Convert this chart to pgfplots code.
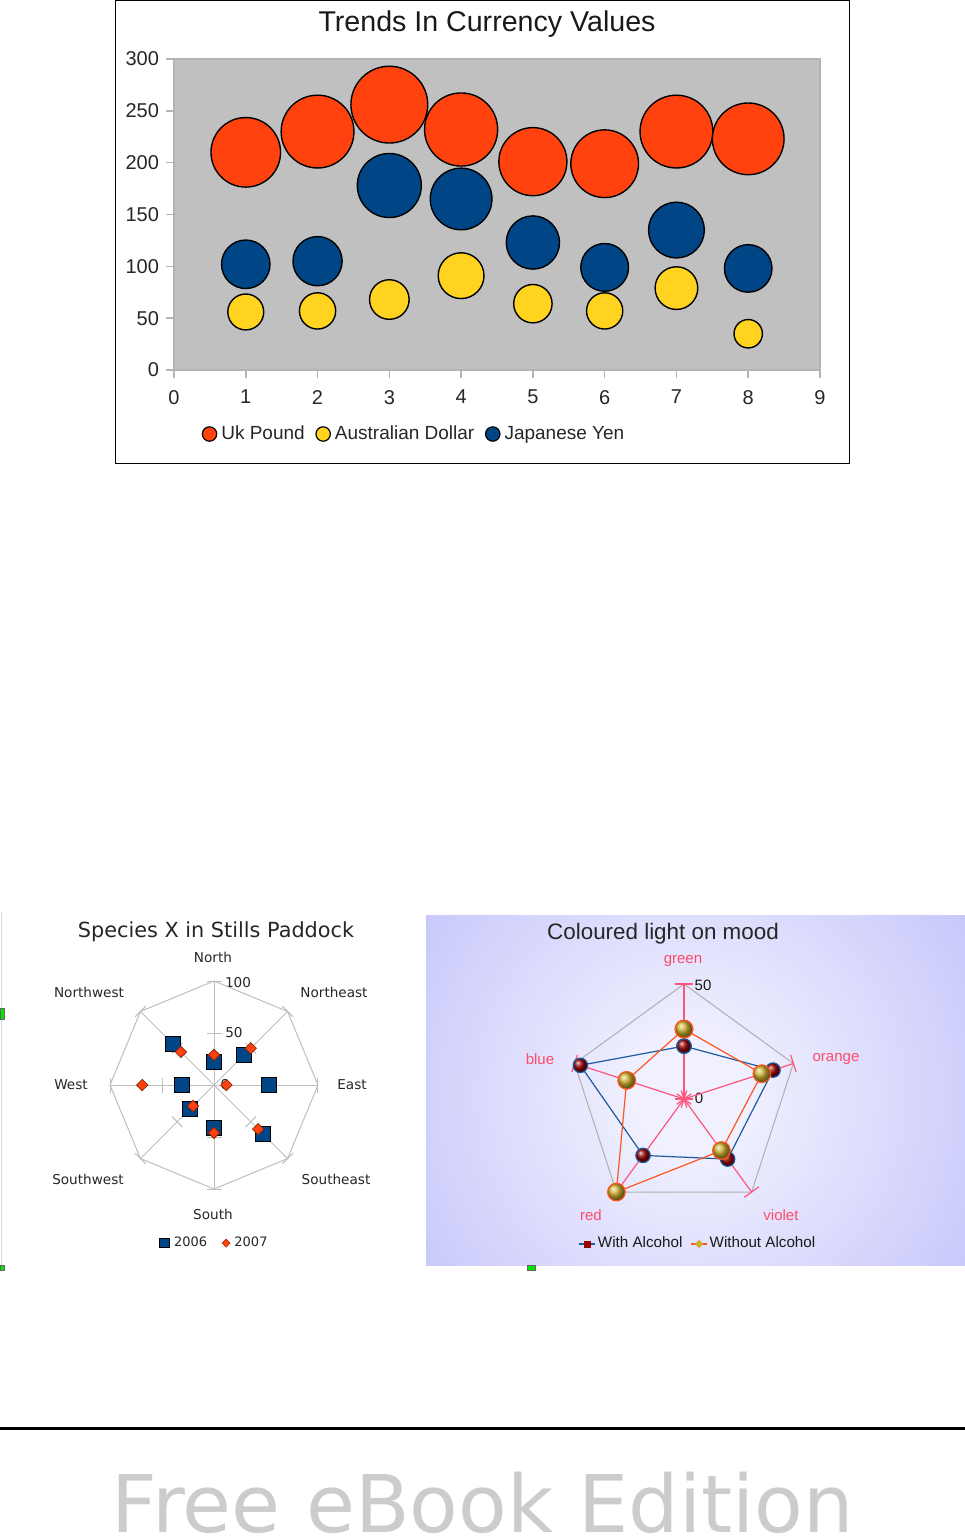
\documentclass[border=0pt]{standalone}
\usepackage{fontspec}
\setmainfont{Liberation Sans}
\newfontfamily\dejavu{DejaVu Sans}
\usepackage{pgfplots}
\usepackage{pgfplotstable}
\pgfplotsset{compat=1.18}
\usepgfplotslibrary{polar}
\usetikzlibrary{plotmarks}

\definecolor{ukred}{RGB}{255,66,14}
\definecolor{audyel}{RGB}{255,211,32}
\definecolor{yenblue}{RGB}{0,69,134}
\definecolor{plotgray}{RGB}{192,192,192}
\definecolor{axisgray}{RGB}{179,179,179}
\definecolor{spokegray}{RGB}{190,190,190}
\definecolor{pentgray}{RGB}{175,175,175}
\definecolor{moodpink}{RGB}{255,85,125}
\definecolor{labelpink}{RGB}{255,75,105}
\definecolor{withblue}{RGB}{30,90,160}
\definecolor{withoutorange}{RGB}{255,85,30}
\definecolor{gold}{RGB}{205,175,45}
\definecolor{darkred}{RGB}{150,0,0}
\definecolor{bgin}{RGB}{240,240,255}
\definecolor{bgout}{RGB}{172,172,248}
\definecolor{wmgray}{RGB}{204,204,204}
\definecolor{handle}{RGB}{0,230,0}

\pgfdeclareradialshading{moodbg}{\pgfpoint{0bp}{0bp}}{color(0bp)=(bgin); color(5bp)=(bgin); color(46bp)=(bgout); color(50bp)=(bgout)}

% currency values: x, value, bubble size
\pgfplotstableread{
x y s
1 210 210
2 230 230
3 256 256
4 232 232
5 201 201
6 199 199
7 230 230
8 223 223
}\ukpound
\pgfplotstableread{
x y s
1 56 56
2 57 57
3 68 68
4 91 91
5 64 64
6 57 57
7 79 79
8 35 35
}\auddollar
\pgfplotstableread{
x y s
1 102 102
2 105 105
3 178 178
4 165 165
5 123 123
6 99 99
7 135 135
8 98 98
}\jpyen

\pgfplotsset{
  bubble/.style={scatter, only marks, mark=*, forget plot, scatter src=explicit,
    scatter/use mapped color={draw=black, fill=#1},
    mark options={line width=0.7pt},
    visualization depends on={\thisrow{s} \as \bsize},
    scatter/@pre marker code/.append style={/tikz/mark size={1.2*sqrt(\bsize)}}},
}

\begin{document}
\begin{tikzpicture}[x=0.5pt, y=-0.5pt]
\useasboundingbox (0,0) rectangle (965,1539);
\coordinate (topax) at (174,370);
\coordinate (spax) at (214,1085);
\coordinate (moodax) at (684,1099);

% ---------- bubble chart ----------
\draw[black, line width=0.6pt] (115.5,0.5) rectangle (849.5,463.5);
\node[anchor=base, font=\fontsize{14.3}{16}\selectfont, text=black!90] at (487,31) {Trends In Currency Values};

\begin{axis}[
  at={(topax)}, anchor=south west,
  scale only axis, width=323pt, height=155.5pt,
  xmin=0, xmax=9, ymin=0, ymax=300,
  xtick={0,...,9}, ytick={0,50,...,300},
  axis background/.style={fill=plotgray},
  axis line style={axisgray, line width=0.8pt},
  tick style={axisgray, line width=0.8pt},
  tick align=outside, major tick length=4pt,
  xtick pos=bottom, ytick pos=left,
  ticklabel style={font=\fontsize{10}{12}\selectfont, text=black!85},
  xticklabel style={yshift=-2.5pt},
  /pgf/number format/assume math mode=true,
  legend style={at={(0.033,-0.2058)}, anchor=west, draw=none, fill=none,
    legend columns=-1, font=\fontsize{9.5}{11}\selectfont, text=black!85,
    /tikz/every even column/.append style={column sep=3.3pt}},
  clip=false,
]
\addplot[bubble=ukred] table[x=x, y=y, meta=s] {\ukpound};
\addplot[bubble=audyel] table[x=x, y=y, meta=s] {\auddollar};
\addplot[bubble=yenblue] table[x=x, y=y, meta=s] {\jpyen};
\addlegendimage{legend image code/.code={\draw[fill=ukred, draw=black, line width=0.6pt] (0pt,0pt) circle (3.6pt);}}
\addlegendentry{Uk Pound}
\addlegendimage{legend image code/.code={\draw[fill=audyel, draw=black, line width=0.6pt] (0pt,0pt) circle (3.6pt);}}
\addlegendentry{Australian Dollar}
\addlegendimage{legend image code/.code={\draw[fill=yenblue, draw=black, line width=0.6pt] (0pt,0pt) circle (3.6pt);}}
\addlegendentry{Japanese Yen}
\end{axis}

% ---------- species radar ----------
\draw[black!15, line width=0.6pt] (1.5,912) -- (1.5,1266);
\filldraw[fill=handle, draw=black!60, line width=0.4pt] (0,1008) rectangle (4,1019);
\filldraw[fill=handle, draw=black!60, line width=0.4pt] (0,1265) rectangle (4,1270);
\node[anchor=base, font=\dejavu\fontsize{10.4}{12}\selectfont, text=black!85] at (216,937) {Species X in Stills Paddock};
\begin{scope}[every node/.style={font=\dejavu\fontsize{6.8}{8}\selectfont, text=black!85}]
\node at (213,957) {North};
\node at (334,992) {Northeast};
\node at (352,1085) {East};
\node at (336,1179) {Southeast};
\node at (213,1214) {South};
\node at (88,1179) {Southwest};
\node at (71,1085) {West};
\node at (89,992) {Northwest};
\node at (238,983) {100};
\node at (234,1033) {50};
\node at (225,1085) {0};
\end{scope}

\begin{polaraxis}[
  at={(spax)}, anchor=center,
  scale only axis, width=104pt, height=104pt,
  xmin=0, xmax=360, ymin=0, ymax=100,
  hide axis, clip=false,
  legend style={at={(0.507,-0.26)}, anchor=center, draw=none, fill=none,
    legend columns=-1, font=\dejavu\fontsize{6.5}{8}\selectfont, text=black!85,
    /tikz/every even column/.append style={column sep=5.3pt}},
]
\pgfplotsinvokeforeach{0,45,...,315}{
  \addplot[spokegray, line width=0.5pt, forget plot] coordinates {(#1,0) (#1,100)};
  \addplot[only marks, mark=|, mark size=3.75pt, mark options={rotate=#1, spokegray, line width=0.5pt}, forget plot] coordinates {(#1,50) (#1,100)};
}
\addplot[spokegray, line width=0.5pt, forget plot] coordinates {(0,100) (45,100) (90,100) (135,100) (180,100) (225,100) (270,100) (315,100) (360,100)};
% 2006
\addplot[only marks, mark=square*, mark size=3.75pt, mark options={fill=yenblue, draw=black, line width=0.6pt}, forget plot]
  coordinates {(90,22) (45,41) (0,53) (315,67) (270,41) (225,33) (180,31) (135,56)};
% 2007
\addplot[only marks, mark=square*, mark size=2pt, mark options={rotate=45, fill=ukred, draw=ukred!55!black, line width=0.4pt}, forget plot]
  coordinates {(90,29) (45,50) (0,12) (315,60) (270,46) (225,28.5) (180,69) (135,45)};
\addlegendimage{legend image code/.code={\draw[fill=yenblue, draw=black, line width=0.4pt] (-2.5pt,-2.2pt) rectangle (2.5pt,2.2pt);}}
\addlegendentry{2006}
\addlegendimage{legend image code/.code={\draw[fill=ukred, draw=ukred!60!black, line width=0.3pt] (0pt,2pt) -- (2pt,0pt) -- (0pt,-2pt) -- (-2pt,0pt) -- cycle;}}
\addlegendentry{2007}
\end{polaraxis}

% ---------- mood radar ----------
\begin{scope}
\clip (426,915) rectangle (965,1265);
\shade[shading=moodbg] (410,815) rectangle (970,1375);
\end{scope}
\filldraw[fill=handle, draw=black!60, line width=0.4pt] (527,1265) rectangle (535,1270);
\node[anchor=base, font=\fontsize{11.2}{13}\selectfont, text=black!85] at (663,939) {Coloured light on mood};
\begin{scope}[every node/.style={font=\fontsize{7.5}{9}\selectfont, text=labelpink}]
\node at (683,961) {green};
\node at (836,1059) {orange};
\node at (781,1215) {violet};
\node at (591,1215) {red};
\node at (540,1059) {blue};
\end{scope}
\node[font=\fontsize{7.5}{9}\selectfont, text=black!90] at (703,985) {50};
\node[font=\fontsize{7.5}{9}\selectfont, text=black!90] at (699,1098) {0};

\begin{polaraxis}[
  at={(moodax)}, anchor=center,
  scale only axis, width=115pt, height=115pt,
  xmin=0, xmax=360, ymin=0, ymax=50,
  hide axis, clip=false,
  legend style={at={(0.561,-0.13)}, anchor=center, draw=none, fill=none,
    legend columns=-1, font=\fontsize{7.6}{9}\selectfont, text=black!90,
    nodes={inner sep=1pt},
    /tikz/every even column/.append style={column sep=3pt}},
]
\addplot[pentgray, line width=0.5pt, forget plot] coordinates {(90,50) (18,50) (306,50) (234,50) (162,50) (90,50)};
\pgfplotsinvokeforeach{18,90,162,234,306}{
  \addplot[moodpink, line width=0.6pt, forget plot] coordinates {(#1,0) (#1,50)};
  \addplot[only marks, mark=|, mark size=4.5pt, mark options={rotate=#1, moodpink, line width=0.6pt}, forget plot] coordinates {(#1,0) (#1,50)};
}
% With Alcohol
\addplot[withblue, line width=0.6pt, mark=ball, mark size=3.6pt, mark options={ball color=darkred}, forget plot]
  coordinates {(90,23) (18,40.7) (306,32.3) (234,30.3) (162,47.4) (90,23)};
% Without Alcohol
\addplot[withoutorange, line width=0.6pt, mark=ball, mark size=4.4pt, mark options={ball color=gold}, forget plot]
  coordinates {(90,30.4) (18,35.6) (306,27.7) (234,50) (162,26.2) (90,30.4)};
\addlegendimage{legend image code/.code={\draw[withblue, line width=0.6pt] (0pt,0pt) -- (8pt,0pt); \fill[darkred] (2.5pt,-1.5pt) rectangle (5.5pt,1.5pt);}}
\addlegendentry{With Alcohol}
\addlegendimage{legend image code/.code={\draw[withoutorange, line width=0.6pt] (0pt,0pt) -- (8pt,0pt); \fill[gold] (4pt,1.8pt) -- (5.8pt,0pt) -- (4pt,-1.8pt) -- (2.2pt,0pt) -- cycle;}}
\addlegendentry{Without Alcohol}
\end{polaraxis}

% ---------- footer ----------
\draw[black, line width=1.5pt] (0,1428) -- (965,1428);
\node[anchor=base, inner sep=0pt, font=\dejavu\fontsize{39.8}{48}\selectfont, text=wmgray] at (483,1532) {Free eBook Edition};
\end{tikzpicture}
\end{document}
